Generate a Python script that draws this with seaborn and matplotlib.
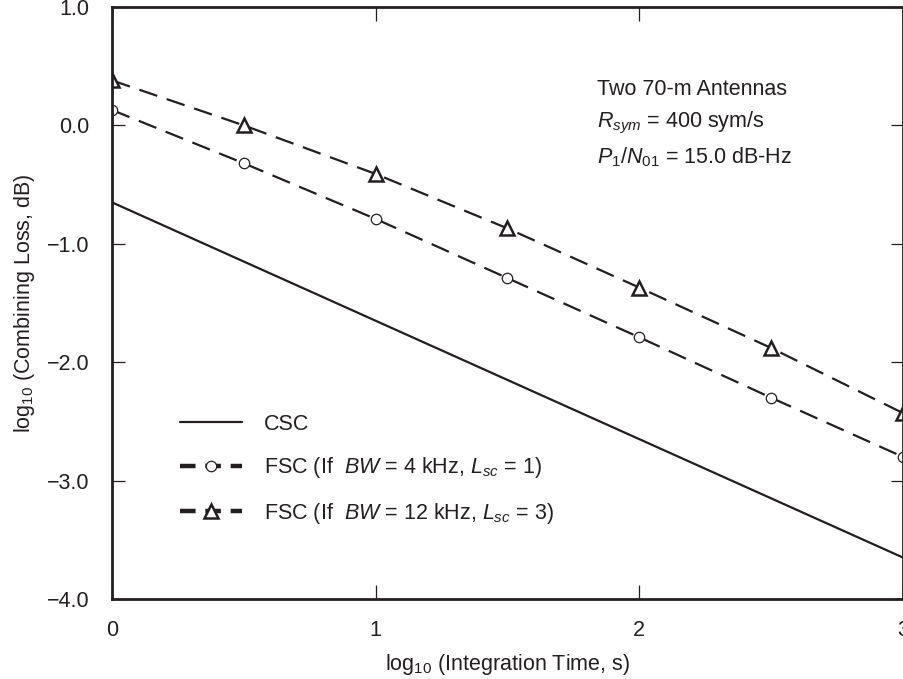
import pandas as pd
import matplotlib.pyplot as plt
import seaborn as sns

# values
log_time = [0.0, 0.5, 1.0, 1.5, 2.0, 2.5, 3.0]
csc_x = [0.0, 3.0]
csc_loss = [-0.65, -3.65]
fsc_4khz = [0.13, -0.32, -0.79, -1.29, -1.79, -2.30, -2.80]
fsc_12khz = [0.38, 0.00, -0.41, -0.87, -1.37, -1.88, -2.43]

label_csc = "CSC"
label_4k = "FSC (If  $BW$ = 4 kHz, $L_{sc}$ = 1)"
label_12k = "FSC (If  $BW$ = 12 kHz, $L_{sc}$ = 3)"

csc_df = pd.DataFrame({"x": csc_x, "y": csc_loss})
fsc_df = pd.DataFrame({"x": log_time, "y4": fsc_4khz, "y12": fsc_12khz})

sns.set_style("white")
ink = "#231f20"
fs = 15.5
plt.rcParams["font.family"] = ["Liberation Sans", "DejaVu Sans"]
plt.rcParams["mathtext.fontset"] = "custom"
plt.rcParams["mathtext.rm"] = "Liberation Sans"
plt.rcParams["mathtext.it"] = "Liberation Sans:italic"

fig = plt.figure(figsize=(9.04, 6.79), dpi=100)
ax = fig.add_axes([112 / 904, 1 - 599 / 679, 791 / 904, 592 / 679])

sns.lineplot(data=csc_df, x="x", y="y", ax=ax, color=ink, lw=1.6, label=label_csc)
sns.lineplot(data=fsc_df, x="x", y="y4", ax=ax, color=ink, lw=1.6,
             dashes=False, marker="o", markersize=7.5, markerfacecolor="white",
             markeredgecolor=ink, markeredgewidth=0.9, label=label_4k)
sns.lineplot(data=fsc_df, x="x", y="y12", ax=ax, color=ink, lw=1.6,
             dashes=False, marker="^", markersize=10, markerfacecolor="white",
             markeredgecolor=ink, markeredgewidth=1.8, label=label_12k)
for ln in ax.lines[1:]:
    ln.set_linestyle((0, (8.5, 4.5)))

ax.set_xlim(0, 3)
ax.set_ylim(-4, 1)
ax.set_xticks([0, 1, 2, 3])
ax.set_xticklabels(["0", "1", "2", "3"])
ax.set_yticks([-4, -3, -2, -1, 0, 1])
ax.set_yticklabels(["\u22124.0", "\u22123.0", "\u22122.0", "\u22121.0", "0.0", "1.0"])
ax.tick_params(axis="x", direction="in", length=10, width=0.9, pad=15,
               labelsize=fs, colors=ink, top=True, bottom=True)
ax.tick_params(axis="y", direction="in", length=9, width=0.9, pad=16,
               labelsize=fs, colors=ink, left=True, right=True)
for sp in ax.spines.values():
    sp.set_linewidth(2.0)
    sp.set_color(ink)
    sp.set_visible(True)

ax.set_xlabel("log$_{10}$ (Integration Time, s)", fontsize=fs, color=ink, labelpad=8)
ax.set_ylabel("log$_{10}$ (Combining Loss, dB)", fontsize=fs, color=ink, labelpad=7)

ax.text(1.84, 0.30, "Two 70-m Antennas", fontsize=fs, color=ink, va="center")
ax.text(1.84, 0.02, "$R_{sym}$ = 400 sym/s", fontsize=fs, color=ink, va="center")
ax.text(1.84, -0.27, "$P_{\\mathrm{1}}$/$N_{\\mathrm{01}}$ = 15.0 dB-Hz", fontsize=fs,
        color=ink, va="center")

leg = ax.legend(loc="upper left", bbox_to_anchor=(0.086, 0.313), frameon=False,
                fontsize=fs, handlelength=2.9, handletextpad=1.0, labelspacing=0.95,
                borderpad=0, borderaxespad=0)
for t in leg.get_texts():
    t.set_color(ink)
for h in leg.legend_handles[1:]:
    h.set_linewidth(3.2)
    h.set_linestyle((0, (3.5, 2.2)))

fig.savefig("out.png", dpi=100)
